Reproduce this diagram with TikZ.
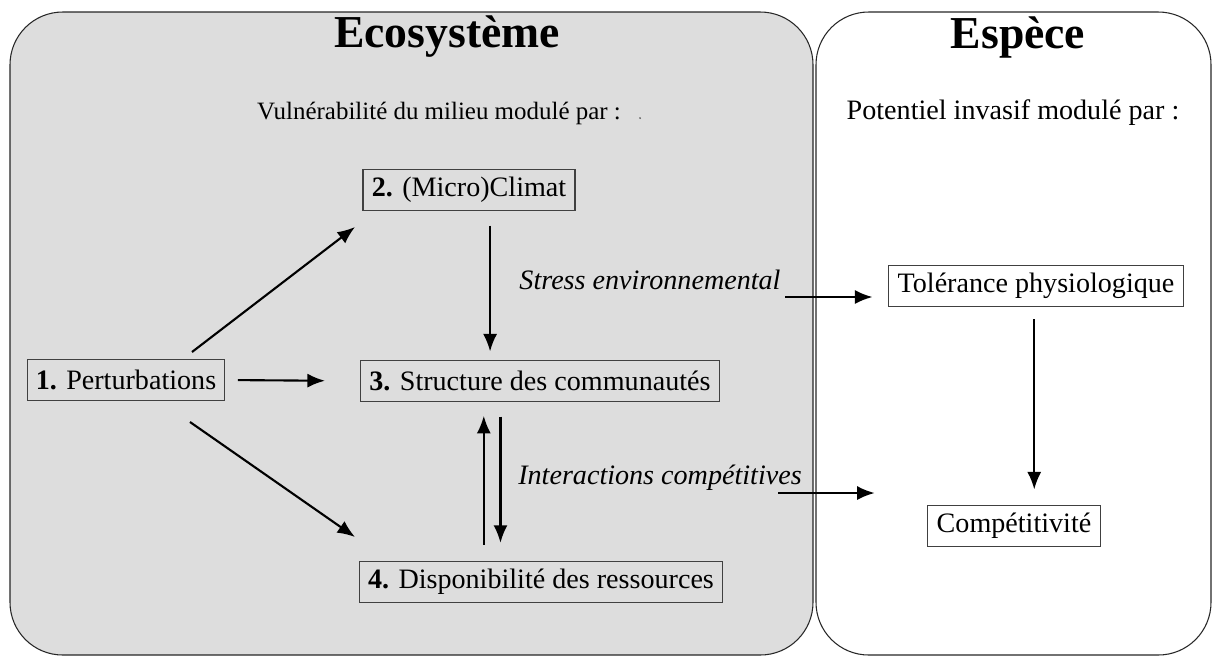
\documentclass[tikz,border=0pt]{standalone}
\usepackage{fontspec}
\setmainfont{Liberation Serif}
\usetikzlibrary{arrows.meta}
\definecolor{ecogray}{HTML}{DDDDDD}
\tikzset{>={Latex[length=10pt,width=8pt]}}
\tikzset{
  panel/.style={draw=black!85, line width=0.6pt, rounded corners=30pt},
  box/.style={draw=black!75, line width=0.6pt, inner xsep=5pt, inner ysep=3pt,
    minimum height=23pt, font=\fontsize{16}{18}\selectfont},
  txt/.style={font=\fontsize{16}{18}\selectfont},
  slabel/.style={font=\fontsize{16}{18}\selectfont\itshape},
  title/.style={font=\fontsize{26}{30}\selectfont\bfseries},
  link/.style={->, line width=1.2pt}
}

\begin{document}
\begin{tikzpicture}[x=0.02cm, y=-0.02cm]
\useasboundingbox (0,0) rectangle (1213,657);
% the two panels
\draw[panel, fill=ecogray] (10,12) rectangle (813,655);
\draw[panel] (816,12) rectangle (1211,655);

% titles
\node[title] (eco) at (447,37) {Ecosystème};
\node[title] (esp) at (1018,37) {Espèce};
\node[txt, font=\fontsize{14.2}{17}\selectfont] (vuln) at (439,113) {Vulnérabilité du milieu modulé par :};
\node[inner sep=0.4pt, fill=black!70, circle] (dot) at (640,118) {};
\node[txt] (pot) at (1013,113) {Potentiel invasif modulé par :};

% ecosystem boxes
\node[box] (climat) at (469,190) {\textbf{2.} (Micro)Climat};
\node[box] (pert) at (126,380) {\textbf{1.} Perturbations};
\node[box] (struct) at (540,381) {\textbf{3.} Structure des communautés};
\node[box] (dispo) at (541,582) {\textbf{4.} Disponibilité des ressources};

% species boxes
\node[box] (tol) at (1036,286) {Tolérance physiologique};
\node[box] (comp) at (1014,526) {Compétitivité};

% edge labels
\node[slabel] (stress) at (650,280) {Stress environnemental};
\node[slabel] (inter) at (660,478) {Interactions compétitives};
\coordinate (s0) at (785,297);
\coordinate (i0) at (778,493);
\coordinate (pa) at (192,352);
\coordinate (pb) at (355,227);
\coordinate (pc) at (190,422);
\coordinate (pd) at (355,537);

% arrows
\draw[link] (pa) -- (pb);
\draw[link, shorten <=7pt, shorten >=20pt] (pert.east) -- (struct.west);
\draw[link] (pc) -- (pd);
\draw[link, shorten <=8.5pt, shorten >=5pt] ([xshift=12pt]climat.south) -- ([xshift=12pt]climat.south |- struct.north);
\draw[link, shorten <=9.5pt, shorten >=8pt] ([xshift=-32pt]struct.south |- dispo.north) -- ([xshift=-32pt]struct.south);
\draw[link, shorten <=8.5pt, shorten >=10.5pt] ([xshift=-22.5pt]struct.south) -- ([xshift=-22.5pt]struct.south |- dispo.north);
\draw[link, shorten >=9pt] (s0) -- (tol.west |- s0);
\draw[link, shorten >=30pt] (i0) -- (comp.west |- i0);
\draw[link, shorten <=7pt, shorten >=9pt] ([xshift=-1pt]tol.south) -- ([xshift=-1pt]tol.south |- comp.north);
\end{tikzpicture}
\end{document}
